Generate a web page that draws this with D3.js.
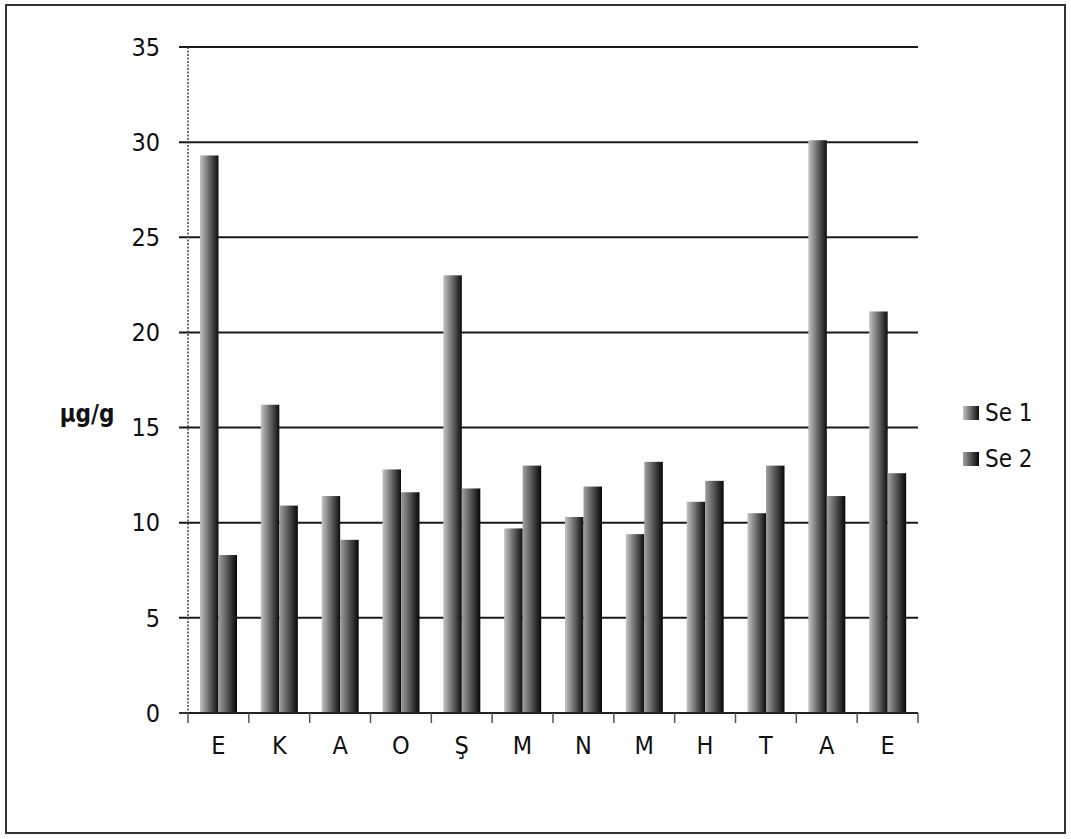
<!DOCTYPE html>
<html>
<head>
<meta charset="utf-8">
<script src="https://cdn.jsdelivr.net/npm/d3@7"></script>
<style>
  body { margin: 0; background: #fff; }
  text { font-family: "Liberation Sans Narrow", "DejaVu Sans Condensed", "Open Sans", sans-serif; fill: #111; }
</style>
</head>
<body>
<div id="chart"></div>
<script>
'use strict'

const categories = ["E", "K", "A", "O", "Ş", "M", "N", "M", "H", "T", "A", "E"]
const se1 = [29.3, 16.2, 11.4, 12.8, 23.0, 9.7, 10.3, 9.4, 11.1, 10.5, 30.1, 21.1]
const se2 = [8.3, 10.9, 9.1, 11.6, 11.8, 13.0, 11.9, 13.2, 12.2, 13.0, 11.4, 12.6]
const seriesNames = ["Se 1", "Se 2"]
const yTicks = [0, 5, 10, 15, 20, 25, 30, 35]

const width = 1071, height = 839
const margin = {top: 47, right: 153, bottom: 126, left: 188}

const svg = d3.select("#chart").append("svg")
  .attr("width", width)
  .attr("height", height)

// gradients for the bars (light left, dark right)
const defs = svg.append("defs")
const grads = [["g1", "#c4c4c4", "#0c0c0c"], ["g2", "#a0a0a0", "#050505"]]
grads.forEach(function(g){
  const lg = defs.append("linearGradient").attr("id", g[0])
    .attr("x1", "0%").attr("x2", "100%").attr("y1", "0%").attr("y2", "0%")
  lg.append("stop").attr("offset", "0%").attr("stop-color", g[1])
  lg.append("stop").attr("offset", "50%").attr("stop-color", d3.interpolateRgb(g[1], g[2])(0.5))
  lg.append("stop").attr("offset", "100%").attr("stop-color", g[2])
})

// outer frame
svg.append("rect")
  .attr("x", 6).attr("y", 5)
  .attr("width", width - 12).attr("height", height - 11)
  .attr("fill", "none").attr("stroke", "#333").attr("stroke-width", 2)

const x = d3.scaleBand()
  .domain(d3.range(categories.length))
  .range([margin.left, width - margin.right])

const y = d3.scaleLinear()
  .domain([0, 35])
  .range([height - margin.bottom, margin.top])

// gridlines
svg.append("g")
  .selectAll("line")
  .data(yTicks.filter(d => d > 0))
  .enter().append("line")
    .attr("x1", margin.left - 9)
    .attr("x2", width - margin.right)
    .attr("y1", d => y(d))
    .attr("y2", d => y(d))
    .attr("stroke", "#1a1a1a")
    .attr("stroke-width", 2)

// y tick labels
svg.append("g")
  .selectAll("text")
  .data(yTicks)
  .enter().append("text")
    .attr("x", margin.left - 28)
    .attr("y", d => y(d))
    .attr("dy", "0.35em")
    .attr("text-anchor", "end")
    .style("font-size", "25px")
    .text(d => d)

// left axis (dotted)
svg.append("line")
  .attr("x1", margin.left).attr("x2", margin.left)
  .attr("y1", y(35)).attr("y2", y(0))
  .attr("stroke", "#444").attr("stroke-width", 1.5)
  .attr("stroke-dasharray", "2,1.5")

svg.append("line")
  .attr("x1", margin.left - 9).attr("x2", margin.left)
  .attr("y1", y(0)).attr("y2", y(0))
  .attr("stroke", "#333").attr("stroke-width", 2)

// bars
const bw = 18.5
const groups = svg.append("g")
  .selectAll("g")
  .data(categories.map((c, i) => ({c: c, i: i, v: [se1[i], se2[i]]})))
  .enter().append("g")
    .attr("transform", d => "translate(" + (x(d.i) + 12) + ",0)")

groups.selectAll("rect")
  .data(d => d.v)
  .enter().append("rect")
    .attr("x", (d, j) => j * bw)
    .attr("y", d => y(d))
    .attr("width", bw)
    .attr("height", d => y(0) - y(d))
    .attr("fill", (d, j) => "url(#g" + (j + 1) + ")")

// bottom axis
svg.append("line")
  .attr("x1", margin.left).attr("x2", width - margin.right)
  .attr("y1", y(0)).attr("y2", y(0))
  .attr("stroke", "#222").attr("stroke-width", 2)

svg.append("g")
  .selectAll("line")
  .data(d3.range(categories.length + 1))
  .enter().append("line")
    .attr("x1", d => margin.left + d * x.step())
    .attr("x2", d => margin.left + d * x.step())
    .attr("y1", y(0))
    .attr("y2", y(0) + 10)
    .attr("stroke", "#555").attr("stroke-width", 1.5)

svg.append("g")
  .selectAll("text")
  .data(categories)
  .enter().append("text")
    .attr("x", (d, i) => x(i) + x.bandwidth() / 2)
    .attr("y", 745)
    .attr("dy", "0.35em")
    .attr("text-anchor", "middle")
    .style("font-size", "25px")
    .text(d => d)

// y axis title
svg.append("text")
  .attr("x", 87).attr("y", 414)
  .attr("dy", "0.35em")
  .attr("text-anchor", "middle")
  .style("font-size", "24px")
  .style("font-weight", "bold")
  .text("µg/g")

// legend
const legend = svg.append("g")
  .selectAll("g")
  .data(seriesNames)
  .enter().append("g")
    .attr("transform", (d, i) => "translate(963," + (413 + i * 46) + ")")

legend.append("rect")
  .attr("x", 0).attr("y", -7)
  .attr("width", 16).attr("height", 14)
  .attr("fill", (d, i) => "url(#g" + (i + 1) + ")")

legend.append("text")
  .attr("x", 22).attr("y", 0)
  .attr("dy", "0.35em")
  .style("font-size", "24px")
  .text(d => d)
</script>
</body>
</html>
